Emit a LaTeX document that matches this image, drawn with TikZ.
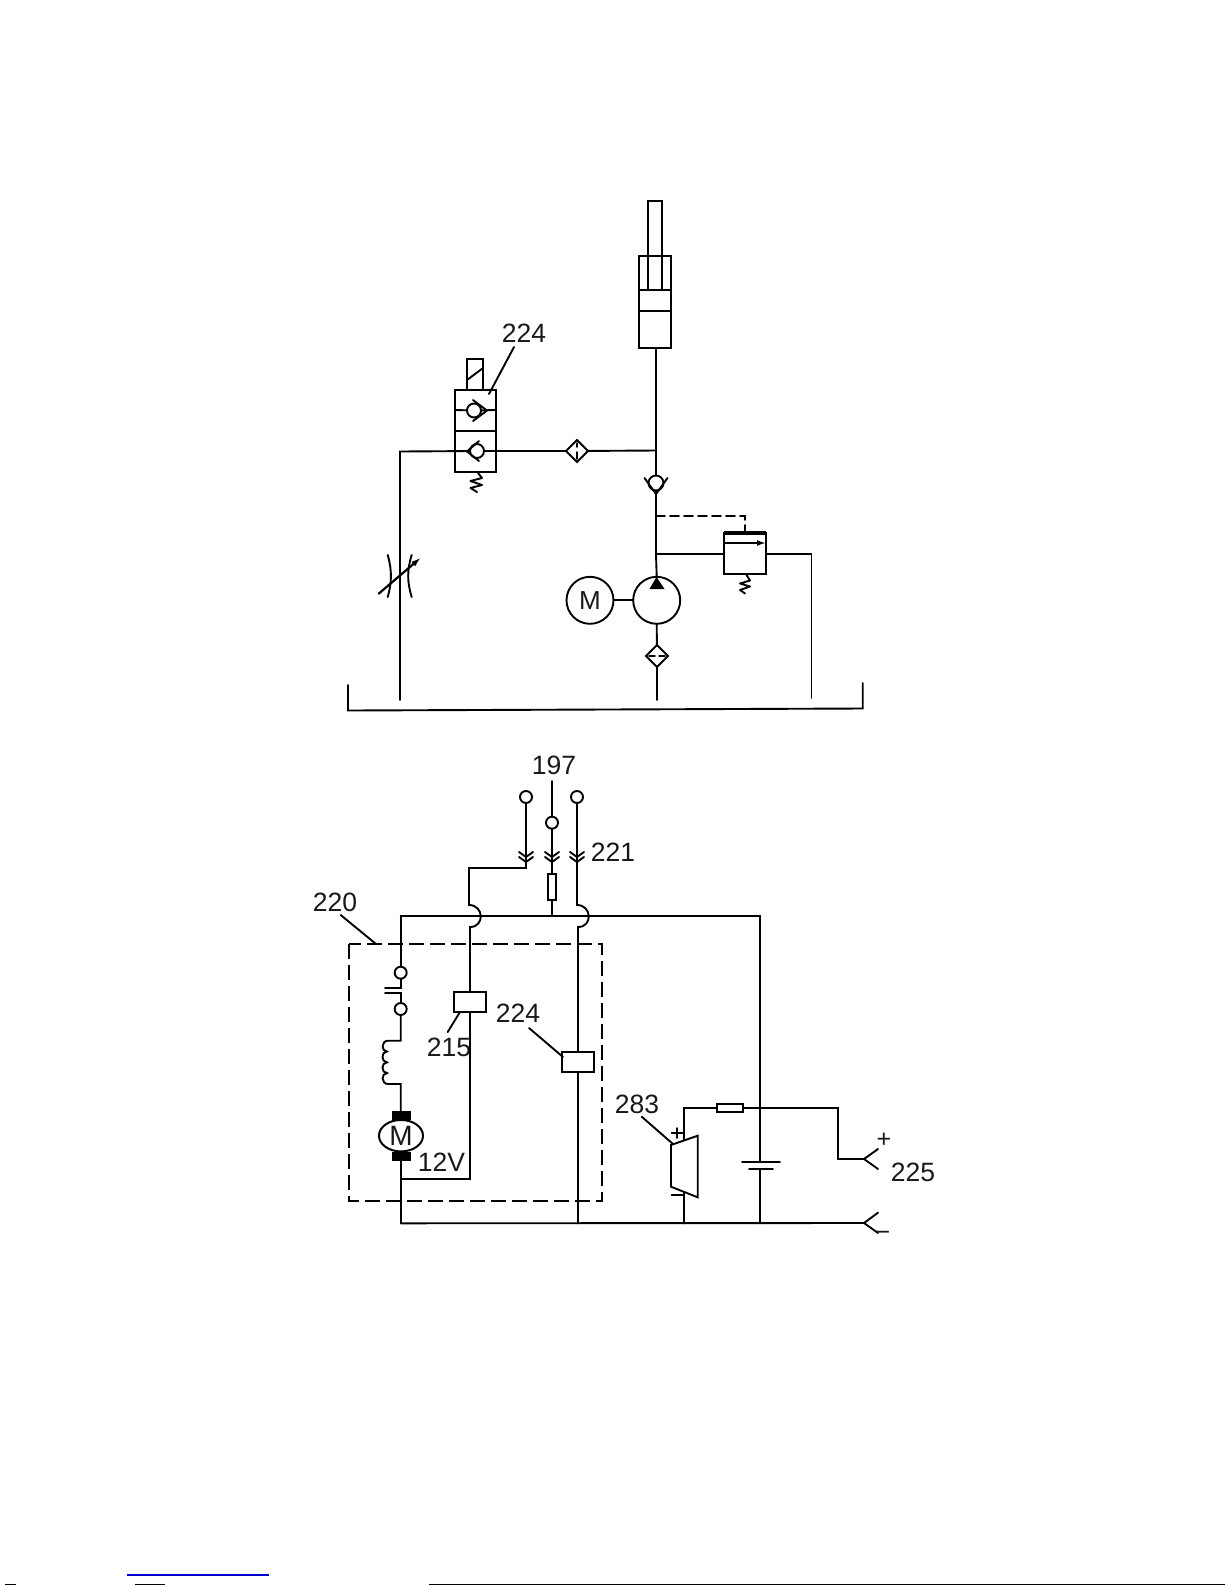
\documentclass[tikz,border=0pt]{standalone}
\usepackage{fontspec}
\setmainfont{Liberation Sans}
\usetikzlibrary{shapes.geometric,arrows.meta,calc}
\tikzset{
 wire/.style={line width=1.9pt,line cap=round,line join=miter,black},
 thin wire/.style={line width=1.5pt,line cap=round,black},
 comp/.style={draw=black,line width=2pt,inner sep=0pt,outer sep=0pt,rectangle,fill=white},
 roundc/.style={draw=black,line width=1.9pt,circle,inner sep=0pt,outer sep=0pt,fill=white,minimum size=#1},
 filt/.style={draw=black,line width=2pt,diamond,aspect=1,inner sep=0pt,outer sep=0pt,minimum size=22pt,fill=white},
 lbl/.style={inner sep=0pt,text=black!90,font=\fontsize{26.5}{30}\selectfont},
 small/.style={inner sep=0pt,text=black!90,font=\fontsize{25}{28}\selectfont},
}
\newcommand{\chev}[2]{%
 \draw[wire] (#1-7,#2-6) -- (#1,#2-1) -- (#1+7,#2-6);
 \draw[wire] (#1-7,#2-1) -- (#1,#2+4) -- (#1+7,#2-1);}
\begin{document}
\begin{tikzpicture}[x=1pt,y=-1pt]
\useasboundingbox (0,0) rectangle (1225,1585);
\fill[white] (0,0) rectangle (1225,1585);

%% ---------- hydraulic circuit ----------
% cylinder
\node[comp,anchor=north west,minimum width=14pt,minimum height=89pt] (rod) at (648,201) {};
\node[comp,fill=none,anchor=north west,minimum width=32pt,minimum height=92pt] (barrel) at (639,256) {};
\coordinate (barL) at (639,290); \coordinate (barR) at (671,290);
\coordinate (pisL) at (639,311); \coordinate (pisR) at (671,311);
\draw[wire] (barL) -- (barR);
\draw[wire] (pisL) -- (pisR);

% directional valve
\node[comp,anchor=north west,minimum width=41pt,minimum height=82pt] (valve) at (455,390) {};
\node[comp,anchor=south west,minimum width=16pt,minimum height=31pt] (sol) at (467,390) {};
\coordinate (solA) at (467,380); \coordinate (solB) at (483,368);
\draw[wire] (solA) -- (solB);
\coordinate (vmL) at (455,431); \coordinate (vmR) at (496,431);
\draw[wire] (vmL) -- (vmR);
\coordinate (vuL) at (455,410); \coordinate (vuR) at (496,410);
\node[roundc=14pt] (chkU) at (474,410.5) {};
\draw[wire] (vuL) -- (chkU);
\draw[wire] (chkU) -- (vuR);
\draw[wire] (473,400) -- (487,410.5) -- (473,421);
\node[roundc=14pt] (chkL) at (477,451) {};
\draw[wire] (479,441) -- (467,451.5) -- (479,461);
\draw[wire,line join=round] (478,473) -- (482,478) -- (470.5,481) -- (482,485) -- (470.5,488) -- (477,492);

% main horizontal line and left return
\coordinate (retTop) at (400,451.5);
\coordinate (retEnd) at (400,700);
\coordinate (junc) at (656,450.5);
\node[filt] (filtA) at (577,451) {};
\draw[wire] (retEnd) -- (retTop) -- (chkL);
\draw[wire] (chkL) -- (filtA);
\draw[wire] (filtA) -- (junc);
\draw[thin wire] (577,443) -- (577,447);
\draw[thin wire] (577,452) -- (577,459);

% non return valve
\node[roundc=15pt] (nrv) at (656,483) {};
\draw[wire] (644.5,478) -- (656,494) -- (667.5,478);
\draw[wire] (barrel.south -| junc) -- (junc) -- (nrv);

% relief valve
\node[comp,anchor=north west,minimum width=42pt,minimum height=41pt] (relief) at (724,533) {};
\draw[line width=3.2pt,black] (relief.north west) -- (relief.north east);
\coordinate (rifL) at (724,543); \coordinate (rifR) at (766,543);
\draw[wire,-{Latex[length=9pt,width=6pt]}] (rifL) -- (rifR);
\draw[wire,line join=round] (746.5,575) -- (750,580.5) -- (740,583.5) -- (750,586.5) -- (740,590) -- (745,593.5);

% pump and motor
\node[roundc=47pt] (pump) at (656.7,600.3) {};
\node[roundc=47pt,font=\fontsize{26}{28}\selectfont,text=black!90] (motor) at (590,600.3) {M};
\fill[black] (656.5,577) -- (664.5,589) -- (649.5,589) -- cycle;
\draw[wire] (motor) -- (pump);
\coordinate (junD) at (656,516);
\coordinate (junR) at (656,554);
\coordinate (tankR) at (811.5,698);
\coordinate (rOut) at (811.5,554);
\draw[wire] (nrv) -- (junD) -- (junR) -- (pump.north);
\draw[wire] (junR) -- (relief.west |- junR);
\draw[wire] (relief.east |- rOut) -- (rOut) -- (tankR);
\coordinate (dshCorner) at (745,516);
\draw[wire,dash pattern=on 9pt off 5pt] (junD) -- (dshCorner) -- (relief.north);

% filter below pump
\node[filt] (filtB) at (657,656) {};
\coordinate (tankP) at (657,700);
\draw[wire] (pump.south) -- (filtB);
\draw[wire] (filtB) -- (tankP);
\draw[thin wire] (649,656) -- (655,656);
\draw[thin wire] (659,656) -- (665,656);

% throttle
\draw[wire] (387.7,555) .. controls (392,570) and (392,582) .. (387.7,597);
\draw[wire] (411.7,555) .. controls (407,570) and (407,582) .. (411.7,597);
\draw[line width=2.2pt,black,-{Latex[length=10pt,width=6pt]}] (378.3,594) -- (421,557.5);

% tank
\coordinate (tA) at (348,685); \coordinate (tB) at (348,710.5);
\coordinate (tC) at (862.7,708.5); \coordinate (tD) at (862.7,683);
\draw[wire] (tA) -- (tB) -- (tC) -- (tD);

% label 224 (top)
\node[lbl] (l224a) at (524,333) {224};
\coordinate (l224aE) at (489,394);
\draw[wire] (514,347) -- (l224aE);

%% ---------- electrical circuit ----------
\node[lbl] (l197) at (554,765) {197};
\node[lbl] (l221) at (613,852) {221};
\node[lbl] (l220) at (335,902.5) {220};
\node[lbl] (l215) at (449,1047) {215};
\node[lbl] (l224b) at (518,1013) {224};
\node[lbl] (l283) at (637,1104) {283};
\node[lbl] (l225) at (913,1172) {225};
\node[lbl] (l12v) at (441.5,1162.5) {12V};
\node[small] (lplus) at (884,1140) {+};
\node[small] (lminus) at (883,1236) {−};

% terminals
\node[roundc=12pt] (tL) at (526,797) {};
\node[roundc=12pt] (tM) at (552,822.7) {};
\node[roundc=12pt] (tR) at (577,797) {};
\coordinate (t197) at (552,781);
\draw[wire] (t197) -- (tM);

% fuse, relays
\node[comp,anchor=north,minimum width=8pt,minimum height=26pt] (fuseA) at (552,874) {};
\node[comp,minimum width=32pt,minimum height=20.5pt] (rel215) at (470,1002) {};
\node[comp,minimum width=31.5pt,minimum height=20.5pt] (rel224) at (578,1062) {};

% bus
\coordinate (busL) at (400.7,915.7);
\coordinate (busR) at (760,915.7);
\coordinate (busM) at (552,915.7);
\draw[wire] (busL) -- (busR);

% left branch
\coordinate (lA) at (526,868);
\coordinate (lB) at (469,868);
\coordinate (lC) at (469,905);
\coordinate (lD) at (470,927);
\draw[wire] (tL) -- (lA) -- (lB) -- (lC) .. controls (484,905) and (485,927) .. (lD) -- (rel215.north);
\chev{526}{858}

% middle branch
\draw[wire] (tM) -- (fuseA);
\draw[wire] (fuseA) -- (busM);
\chev{552}{858}

% right branch
\coordinate (rC) at (577,905);
\coordinate (rD) at (578,927);
\draw[wire] (tR) -- (rC) .. controls (592,905) and (593,927) .. (rD) -- (rel224.north);
\chev{577}{858}

% motor branch
\node[roundc=12pt] (swU) at (400.7,972.7) {};
\node[roundc=12pt] (swL) at (400.7,1009) {};
\draw[wire] (busL) -- (swU);
\coordinate (cA) at (400.7,987.7); \coordinate (cB) at (385,987.7);
\coordinate (cC) at (400.7,993.3); \coordinate (cD) at (385,993.3);
\draw[wire] (swU) -- (cA) -- (cB);
\draw[wire] (cD) -- (cC) -- (swL);
\coordinate (indT) at (400.7,1040.7);
\coordinate (indB) at (400.7,1084);
\node[draw=black,line width=2pt,ellipse,inner sep=0pt,minimum width=44pt,minimum height=31.5pt,fill=white,font=\fontsize{28}{30}\selectfont,text=black!90] (mot) at (401,1135.7) {M};
\fill[black] (391.5,1110.5) rectangle (411,1120);
\fill[black] (391.5,1151.7) rectangle (411,1161);
\draw[wire] (swL) -- (indT) -- (388,1040.7)
  .. controls (381,1040.7) and (381,1051.5) .. (387,1051.5)
  .. controls (381,1051.5) and (381,1062.3) .. (387,1062.3)
  .. controls (381,1062.3) and (381,1073.1) .. (387,1073.1)
  .. controls (381,1073.1) and (381,1084) .. (388,1084)
  -- (indB) -- (400.7,1111);
\coordinate (gndL) at (401,1223.3);
\coordinate (r12) at (470,1179);
\coordinate (m12) at (401,1179);
\draw[wire] (401,1161) -- (m12) -- (gndL);
\draw[wire] (rel215.south) -- (r12) -- (m12);
\coordinate (g224) at (578,1223.3);
\draw[wire] (rel224.south) -- (g224);

% dashed housing
\draw[wire,line cap=butt,dash pattern=on 15pt off 6pt] (349,944.3) rectangle (602.3,1201);

% battery and speaker branch
\coordinate (batP) at (760,1161.7);
\coordinate (batN) at (760,1169);
\coordinate (gndB) at (760,1223.3);
\coordinate (tipN) at (864,1223);
\coordinate (tipP) at (864,1159);
\coordinate (cnrP) at (838.3,1159);
\coordinate (cnrQ) at (838.3,1107.7);
\coordinate (spkT) at (684,1141);
\coordinate (spkC) at (684,1107.7);
\coordinate (spkB) at (684,1192);
\coordinate (gndS) at (684,1223.3);
\draw[wire] (busR) -- (batP);
\draw[wire] (742,1161.7) -- (780,1161.7);
\draw[wire] (749,1169) -- (773,1169);
\draw[wire] (batN) -- (gndB);
\draw[wire] (gndL) -- (tipN);
\draw[wire] (878,1212.7) -- (tipN) -- (878,1233);
\node[comp,minimum width=26pt,minimum height=8pt] (fuseB) at (729.7,1107.7) {};
\draw[wire] (spkT) -- (spkC) -- (fuseB);
\draw[wire] (fuseB) -- (cnrQ) -- (cnrP) -- (tipP);
\draw[wire] (878,1149) -- (tipP) -- (878,1169);
\draw[wire] (spkB) -- (gndS);
\draw[wire,line join=miter,fill=white] (671,1145) -- (697.7,1135.7) -- (697.7,1197.3) -- (671,1186.7) -- cycle;
\draw[thin wire] (677,1128) -- (677,1138);
\draw[thin wire] (671.5,1133) -- (682.5,1133);
\draw[thin wire] (671.5,1195) -- (682.5,1195);

% leaders
\draw[wire] (340.7,915) -- (376,944);
\draw[wire] (447.7,1032) -- (460,1012);
\draw[wire] (529,1028) -- (563,1057);
\draw[wire] (641.7,1116.7) -- (673,1144);

% scan edge marks
\fill[blue!80!black] (127,1574.2) rectangle (269,1575.8);
\fill[black] (429,1583.6) rectangle (1225,1585);
\fill[black] (135,1583.6) rectangle (165,1585);
\fill[black] (5,1583.6) rectangle (16,1585);
\end{tikzpicture}
\end{document}
